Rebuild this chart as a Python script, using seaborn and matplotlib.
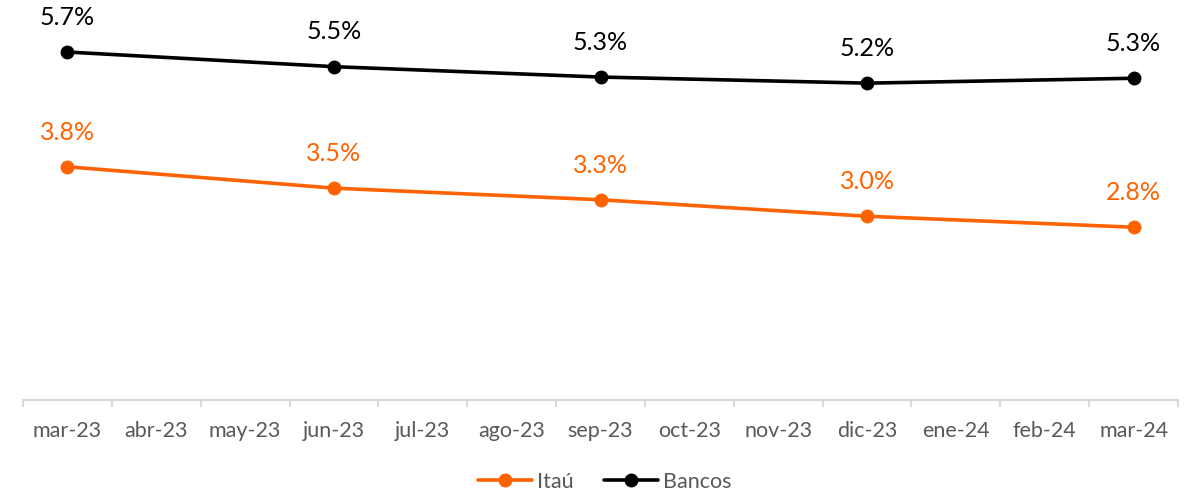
import numpy as np
import matplotlib.pyplot as plt
import pandas as pd
import seaborn as sns
from matplotlib.lines import Line2D

# categorías del eje x (mensual) y puntos trimestrales con dato
meses = ['mar-23', 'abr-23', 'may-23', 'jun-23', 'jul-23', 'ago-23', 'sep-23',
         'oct-23', 'nov-23', 'dic-23', 'ene-24', 'feb-24', 'mar-24']
meses_dato = ['mar-23', 'jun-23', 'sep-23', 'dic-23', 'mar-24']
itau = [3.82, 3.47, 3.28, 3.01, 2.83]
bancos = [5.70, 5.46, 5.29, 5.19, 5.27]

series = ['Itaú', 'Bancos']
colores = {'Itaú': '#FF6200', 'Bancos': '#000000'}

pos = [meses.index(m) for m in meses_dato]
df = pd.DataFrame({
    'pos': pos * 2,
    'valor': itau + bancos,
    'serie': ['Itaú'] * len(itau) + ['Bancos'] * len(bancos),
})

sns.set_style('white')
plt.rcParams['font.family'] = ['Lato', 'DejaVu Sans']

fig = plt.figure(figsize=(11.86, 4.98), dpi=100)
ax = fig.add_axes([23 / 1186, 1 - 400 / 498, 1155 / 1186, 400 / 498])

sns.lineplot(data=df, x='pos', y='valor', hue='serie', hue_order=series,
             palette=colores, marker='o', markersize=10, markeredgewidth=0,
             linewidth=2.6, legend=False, ax=ax)

# etiquetas de datos
for _, r in df.iterrows():
    ax.annotate(f"{r['valor']:.1f}%", (r['pos'], r['valor']),
                xytext=(0, 25), textcoords='offset points',
                ha='center', va='center', fontsize=18,
                color=colores[r['serie']])

ax.set_xlim(-0.5, len(meses) - 0.5)
ax.set_ylim(0, 400 / 61.05)
ax.set_xticks(range(len(meses)))
ax.set_xticklabels(meses)
ax.set_xticks(np.arange(-0.5, len(meses)), minor=True)
ax.tick_params(axis='x', which='major', length=0, pad=15, labelsize=15.5,
               labelcolor='#595959')
ax.tick_params(axis='x', which='minor', length=5, width=1.5,
               color='#d9d9d9', direction='out', bottom=True)
ax.set_yticks([])
ax.set_xlabel('')
ax.set_ylabel('')
for lado in ['top', 'right', 'left']:
    ax.spines[lado].set_visible(False)
ax.spines['bottom'].set_color('#d9d9d9')
ax.spines['bottom'].set_linewidth(1.5)

handles = [Line2D([], [], color=colores[s], marker='o', markersize=10,
                  markeredgewidth=0, linewidth=2.6) for s in series]
fig.legend(handles, series, loc='center', bbox_to_anchor=(0.51, 1 - 482 / 498),
           ncol=2, frameon=False, fontsize=15.5, handlelength=2.5,
           handletextpad=0.25, columnspacing=1.4, labelcolor='#595959')

fig.savefig('out.png', dpi=100)
